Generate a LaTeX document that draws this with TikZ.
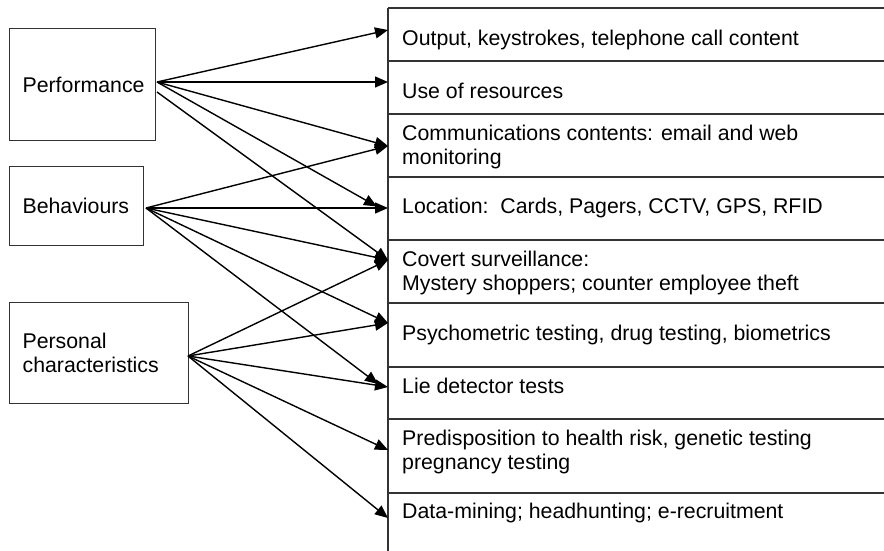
\documentclass[tikz,border=0pt]{standalone}
\usepackage{fontspec}
\setmainfont{Liberation Sans}
\usetikzlibrary{arrows.meta}
\tikzstyle{lbox}=[rectangle,draw=black!80,line width=1.2pt,anchor=north west,
  align=left,inner xsep=13pt,inner ysep=0pt]
\tikzstyle{cell}=[anchor=west,align=left,inner sep=0pt]
\tikzstyle{grid}=[draw=black!80,line width=1.2pt]
\tikzstyle{arr}=[draw=black,line width=1.4pt,-{Triangle[length=13pt,width=11pt]}]

\begin{document}
\begin{tikzpicture}[x=1pt,y=-1pt,font=\fontsize{21.3}{24.5}\selectfont]
        \useasboundingbox (0,0) rectangle (884,551);
        % left boxes
        \node [style=lbox,text width=120pt,minimum height=112pt] (perf) at (9,28) {Performance};
        \node [style=lbox,text width=108pt,minimum height=79pt] (behav) at (9,166) {Behaviours};
        \node [style=lbox,text width=153pt,minimum height=101pt] (pers) at (9,302) {Personal\\characteristics};
        % right table
        \draw [style=grid] (388,8) -- (388,551);
        \draw [style=grid] (388,8) -- (884,8);
        \draw [style=grid] (388,61) -- (884,61);
        \draw [style=grid] (388,114) -- (884,114);
        \draw [style=grid] (388,177) -- (884,177);
        \draw [style=grid] (388,240) -- (884,240);
        \draw [style=grid] (388,303) -- (884,303);
        \draw [style=grid] (388,367) -- (884,367);
        \draw [style=grid] (388,419) -- (884,419);
        \draw [style=grid] (388,493) -- (884,493);
        \node [style=cell] (out) at (402,39.5) {Output, keystrokes, telephone call content};
        \node [style=cell] (res) at (402,91) {Use of resources};
        \node [style=cell] (comm) at (402,147) {Communications contents: email and web\\monitoring};
        \node [style=cell] (loc) at (402,208) {Location:\ \ Cards, Pagers, CCTV, GPS, RFID};
        \node [style=cell] (cov) at (402,273) {Covert surveillance:\\Mystery shoppers; counter employee theft};
        \node [style=cell] (psy) at (402,335) {Psychometric testing, drug testing, biometrics};
        \node [style=cell] (lie) at (402,386) {Lie detector tests};
        \node [style=cell] (pre) at (402,452) {Predisposition to health risk, genetic testing\\pregnancy testing};
        \node [style=cell] (dat) at (402,513) {Data-mining; headhunting; e-recruitment};
        % arrow ends
        \coordinate (p1) at (157,82);
        \coordinate (p2) at (157,92);
        \coordinate (b1) at (146,208);
        \coordinate (c1) at (188,356);
        \coordinate (t1) at (388,30);
        \coordinate (t2) at (388,82);
        \coordinate (t3) at (388,146);
        \coordinate (t4) at (388,208);
        \coordinate (t4s) at (377,206.5);
        \coordinate (t5) at (388,260);
        \coordinate (t6) at (388,323);
        \coordinate (t7) at (388,387);
        \coordinate (t7s) at (378,384);
        \coordinate (t8) at (388,450);
        \coordinate (t9) at (388,518);
        \draw [style=arr] (p1) to (t1);
        \draw [style=arr] (p1) to (t2);
        \draw [style=arr] (p1) to (t3);
        \draw [style=arr] (p1) to (t4s);
        \draw [style=arr] (p2) to (t5);
        \draw [style=arr] (b1) to (t3);
        \draw [style=arr] (b1) to (t4);
        \draw [style=arr] (b1) to (t5);
        \draw [style=arr] (b1) to (t6);
        \draw [style=arr] (b1) to (t7s);
        \draw [style=arr] (c1) to (t5);
        \draw [style=arr] (c1) to (t6);
        \draw [style=arr] (c1) to (t7);
        \draw [style=arr] (c1) to (t8);
        \draw [style=arr] (c1) to (t9);
    \end{tikzpicture}
\end{document}
